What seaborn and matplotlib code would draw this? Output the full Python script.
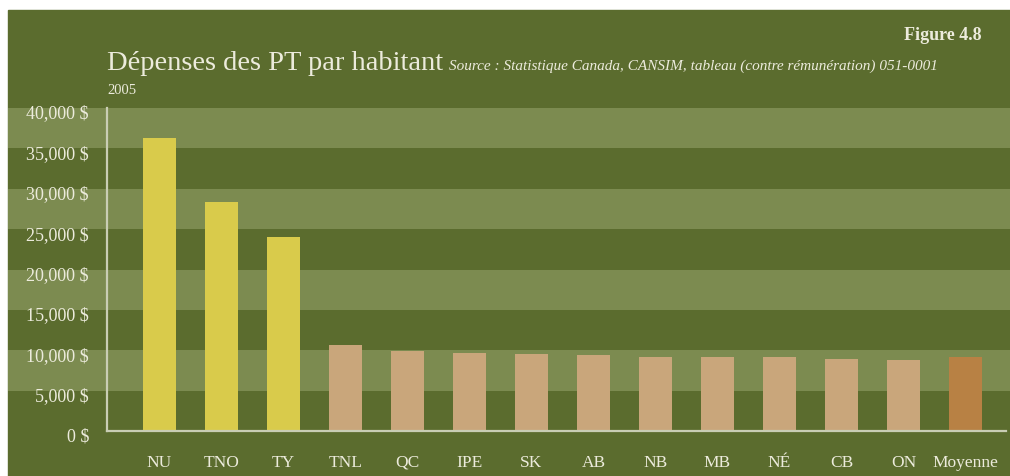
import matplotlib
matplotlib.use("Agg")
import matplotlib.pyplot as plt
from matplotlib.patches import Rectangle
from matplotlib.transforms import ScaledTranslation
import seaborn as sns
import pandas as pd

categories = ["NU", "TNO", "TY", "TNL", "QC", "IPE", "SK", "AB", "NB", "MB", "NÉ", "CB", "ON", "Moyenne"]
values = [36300, 28300, 24000, 10700, 9900, 9700, 9550, 9350, 9200, 9150, 9200, 8900, 8800, 9150]
yticks = [0, 5000, 10000, 15000, 20000, 25000, 30000, 35000, 40000]
ytick_labels = ["0 $", "5,000 $", "10,000 $", "15,000 $", "20,000 $", "25,000 $", "30,000 $", "35,000 $", "40,000 $"]
title = "Dépenses des PT par habitant"
source = "Source : Statistique Canada, CANSIM, tableau (contre rémunération) 051-0001"
year = "2005"
figlabel = "Figure 4.8"

DARK = "#5b6c2e"
LIGHT = "#7c8b50"
TEXT = "#ecebdc"
YELLOW = "#d9cb4b"
TAN = "#c9a67b"
AVG = "#b88144"
SPINE = "#c9cdb4"

palette = [YELLOW] * 3 + [TAN] * 10 + [AVG]
df = pd.DataFrame({"cat": categories, "val": values})

plt.rcParams["font.family"] = ["Liberation Serif", "DejaVu Serif"]

W, H = 1010, 476
fig = plt.figure(figsize=(W / 100, H / 100), dpi=100, facecolor="white")
fig.patches.append(Rectangle((8 / W, 0), (W - 8) / W, (H - 10) / H,
                             transform=fig.transFigure, color=DARK, zorder=-10))

ax_left, ax_right, ax_bottom, ax_top = 107, 1006, 431, 108
ax = fig.add_axes([ax_left / W, 1 - ax_bottom / H, (ax_right - ax_left) / W, (ax_bottom - ax_top) / H])
ax.set_facecolor("none")

sns.barplot(data=df, x="cat", y="val", hue="cat", palette=palette, legend=False,
            width=0.53, saturation=1, ax=ax, zorder=3)

# background bands spanning the whole panel
xmin = (8 - ax_left) / (ax_right - ax_left)
xmax = (W - ax_left) / (ax_right - ax_left)
for lo in [5000, 15000, 25000, 35000]:
    ax.axhspan(lo, lo + 5000, xmin=xmin, xmax=xmax, color=LIGHT, lw=0, zorder=0, clip_on=False)

ax.set_ylim(0, 40000)
ax.set_xlim(-0.84, 13.65)
ax.set_yticks(yticks)
ax.set_yticklabels(ytick_labels)
ax.set_xlabel("")
ax.set_ylabel("")
ax.tick_params(axis="y", length=0, pad=13, labelsize=13, labelcolor=TEXT)
ax.tick_params(axis="x", length=0, pad=17, labelsize=12.5, labelcolor=TEXT)
shift = ScaledTranslation(0, -4 / 100, fig.dpi_scale_trans)
for lab in ax.get_yticklabels():
    lab.set_transform(lab.get_transform() + shift)
for s in ["top", "right"]:
    ax.spines[s].set_visible(False)
for s in ["left", "bottom"]:
    ax.spines[s].set_color(SPINE)
    ax.spines[s].set_linewidth(1.6)
    ax.spines[s].set_zorder(4)

t = fig.text(107 / W, 1 - 70 / H, title, fontsize=20.5, color=TEXT, ha="left", va="baseline")
fig.canvas.draw()
bb = t.get_window_extent()
fig.text((bb.x1 + 6) / W, 1 - 70 / H, source, fontsize=11, style="italic", color=TEXT,
         ha="left", va="baseline")
fig.text(107 / W, 1 - 94 / H, year, fontsize=10.5, color=TEXT, ha="left", va="baseline")
fig.text(982 / W, 1 - 40 / H, figlabel, fontsize=13, fontweight="bold", color=TEXT,
         ha="right", va="baseline")

fig.savefig("out.png", dpi=100, facecolor="white")
